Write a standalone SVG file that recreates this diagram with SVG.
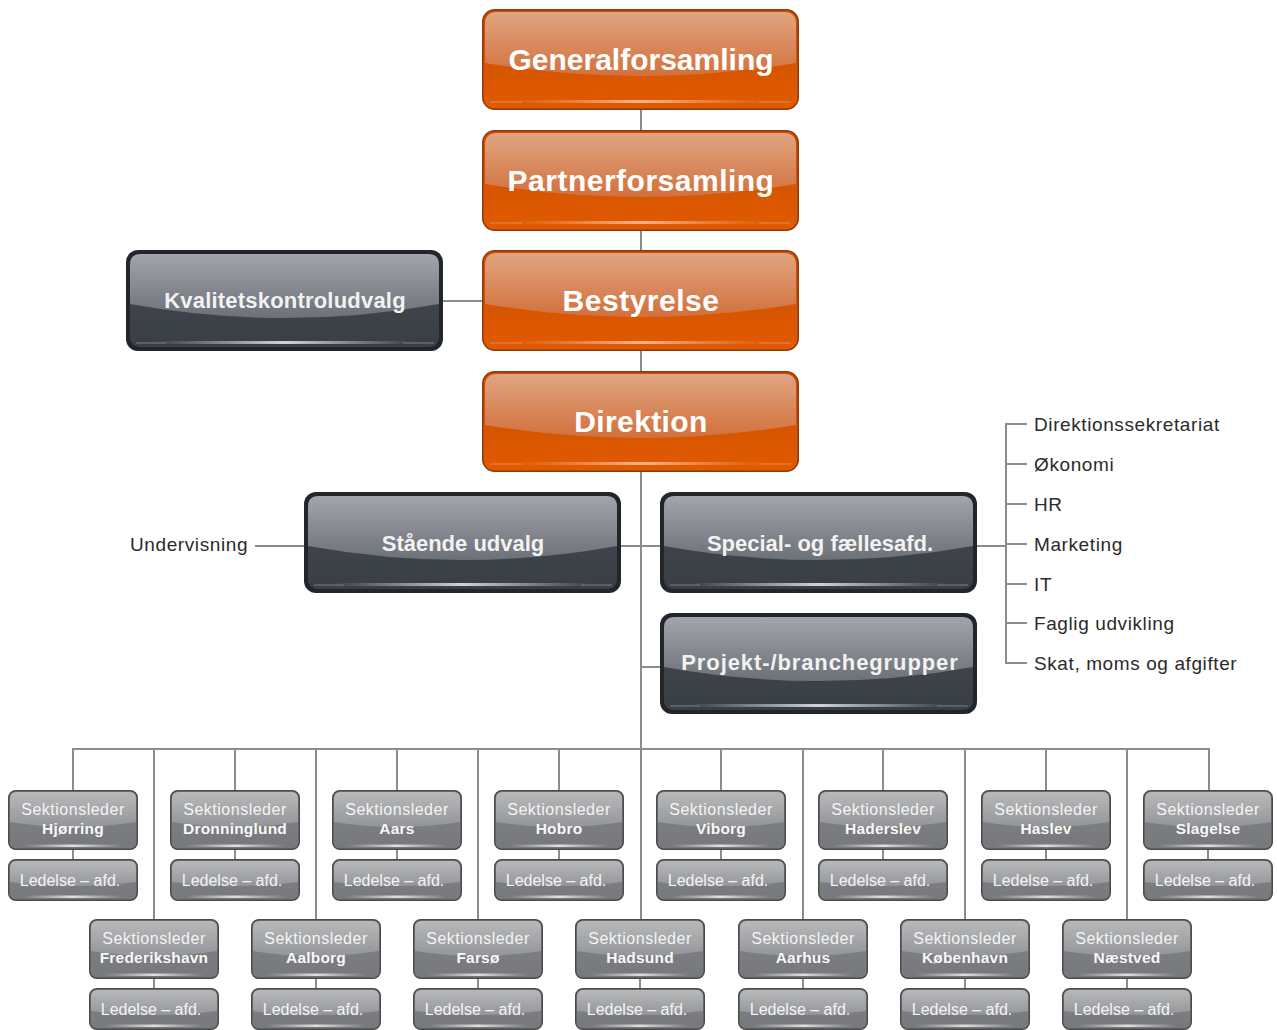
<svg xmlns="http://www.w3.org/2000/svg" xmlns:xlink="http://www.w3.org/1999/xlink" width="1277" height="1030" viewBox="0 0 1277 1030">
<style>
.ln{stroke:#8a8d90;stroke-width:2;fill:none}
.to{font-family:"Liberation Sans",Arial,sans-serif;font-weight:bold;font-size:30px;fill:#ffffff;text-anchor:middle}
.td{font-family:"Liberation Sans",Arial,sans-serif;font-weight:bold;font-size:22px;fill:#f2f2f2;text-anchor:middle}
.ts{font-family:"Liberation Sans",Arial,sans-serif;font-size:16px;letter-spacing:0.5px;fill:#f4f4f4;text-anchor:middle}
.tle{font-family:"Liberation Sans",Arial,sans-serif;font-size:16px;fill:#f4f4f4;text-anchor:middle}
.tb{font-family:"Liberation Sans",Arial,sans-serif;font-weight:bold;font-size:15.5px;letter-spacing:0.2px;fill:#f8f8f8;text-anchor:middle}
.tl{font-family:"Liberation Sans",Arial,sans-serif;font-size:19px;letter-spacing:0.6px;fill:#2b2b2b}
</style>
<defs>
<linearGradient id="oTop" x1="0" y1="0" x2="0" y2="1"><stop offset="0" stop-color="#e0a582"/><stop offset="1" stop-color="#d2703c"/></linearGradient>
<linearGradient id="oLow" x1="0" y1="0" x2="0" y2="1"><stop offset="0" stop-color="#cc4e00"/><stop offset="1" stop-color="#e05a00"/></linearGradient>
<linearGradient id="dTop" x1="0" y1="0" x2="0" y2="1"><stop offset="0" stop-color="#a2a5ab"/><stop offset="1" stop-color="#6c7077"/></linearGradient>
<linearGradient id="dLow" x1="0" y1="0" x2="0" y2="1"><stop offset="0" stop-color="#444951"/><stop offset="1" stop-color="#3a3f46"/></linearGradient>
<linearGradient id="sTop" x1="0" y1="0" x2="0" y2="1"><stop offset="0" stop-color="#b8b9bb"/><stop offset="1" stop-color="#949598"/></linearGradient>
<linearGradient id="sLow" x1="0" y1="0" x2="0" y2="1"><stop offset="0" stop-color="#838487"/><stop offset="1" stop-color="#77787b"/></linearGradient>
<linearGradient id="oStreak" x1="0" y1="0" x2="1" y2="0"><stop offset="0" stop-color="#f3a070" stop-opacity="0"/><stop offset="0.5" stop-color="#f6b48a"/><stop offset="1" stop-color="#f3a070" stop-opacity="0"/></linearGradient>
<linearGradient id="dStreak" x1="0" y1="0" x2="1" y2="0"><stop offset="0" stop-color="#c8ccd0" stop-opacity="0"/><stop offset="0.5" stop-color="#d0d4d8"/><stop offset="1" stop-color="#c8ccd0" stop-opacity="0"/></linearGradient>
<linearGradient id="sStreak" x1="0" y1="0" x2="1" y2="0"><stop offset="0" stop-color="#d8d8d8" stop-opacity="0"/><stop offset="0.5" stop-color="#e0e0e0"/><stop offset="1" stop-color="#d8d8d8" stop-opacity="0"/></linearGradient>
<g id="ob">
<rect x="0.75" y="0.75" width="315.5" height="99.5" rx="12" fill="url(#oLow)" stroke="#8a3a0e" stroke-width="1.5"/>
<path d="M3,15 Q3,3 15,3 L302,3 Q314,3 314,15 L314,54 Q158.5,80 3,54 Z" fill="url(#oTop)"/>
<rect x="30" y="91" width="257" height="3" fill="url(#oStreak)"/>
<path d="M8,93 H40 M277,93 H309" stroke="#ea8a50" stroke-width="1"/>
</g>
<g id="db">
<rect x="0" y="0" width="317" height="101" rx="12" fill="#22262b"/>
<rect x="4" y="4" width="309" height="93" rx="9" fill="url(#dLow)"/>
<path d="M4,15 Q4,4 15,4 L302,4 Q313,4 313,15 L313,54 Q158.5,82 4,54 Z" fill="url(#dTop)"/>
<rect x="30" y="91" width="257" height="3" fill="url(#dStreak)"/>
<path d="M10,93 H40 M277,93 H308" stroke="#7a7f86" stroke-width="1"/>
</g>
<g id="sb">
<rect x="0.75" y="0.75" width="128.5" height="58.5" rx="7" fill="url(#sLow)" stroke="#4a4b4d" stroke-width="1.5"/>
<path d="M2,9 Q2,2 9,2 L121,2 Q128,2 128,9 L128,32 Q65,42 2,32 Z" fill="url(#sTop)"/>
<rect x="15" y="54.5" width="100" height="2.5" fill="url(#sStreak)"/>
</g>
<g id="lb">
<rect x="0.75" y="0.75" width="128.5" height="40.5" rx="7" fill="url(#sLow)" stroke="#4a4b4d" stroke-width="1.5"/>
<path d="M2,9 Q2,2 9,2 L121,2 Q128,2 128,9 L128,23 Q65,31 2,23 Z" fill="url(#sTop)"/>
<rect x="15" y="36.5" width="100" height="2.5" fill="url(#sStreak)"/>
</g>
</defs>
<rect width="1277" height="1030" fill="#ffffff"/>
<g id="connectors">
<path class="ln" d="M641,110 V919"/>
<path class="ln" d="M443,301 H482"/>
<path class="ln" d="M621,546 H660"/>
<path class="ln" d="M255,546 H304"/>
<path class="ln" d="M977,546 H1006"/>
<path class="ln" d="M641,667 H660"/>
<path class="ln" d="M1027,424 H1006 V663 H1027 M1006,464 H1027 M1006,504 H1027 M1006,544 H1027 M1006,584 H1027 M1006,623 H1027"/>
<path class="ln" d="M73,790 V749 H1209 V790"/>
<path class="ln" d="M235,749 V790 M397,749 V790 M559,749 V790 M721,749 V790 M883,749 V790 M1046,749 V790"/>
<path class="ln" d="M154,749 V919 M316,749 V919 M478,749 V919 M803,749 V919 M965,749 V919 M1127,749 V919"/>
<path class="ln" d="M73,850 V859 M235,850 V859 M397,850 V859 M559,850 V859 M721,850 V859 M883,850 V859 M1046,850 V859 M1208,850 V859"/>
<path class="ln" d="M154,979 V988 M316,979 V988 M478,979 V988 M640,979 V988 M803,979 V988 M965,979 V988 M1127,979 V988"/>
</g>
<g id="generalforsamling"><use href="#ob" x="482" y="9"/><text class="to" x="641" y="70">Generalforsamling</text></g>
<g id="partnerforsamling"><use href="#ob" x="482" y="130"/><text class="to" x="641" y="191" letter-spacing="0.5">Partnerforsamling</text></g>
<g id="bestyrelse"><use href="#ob" x="482" y="250"/><text class="to" x="641" y="311" letter-spacing="0.5">Bestyrelse</text></g>
<g id="direktion"><use href="#ob" x="482" y="371"/><text class="to" x="641" y="432" letter-spacing="0.4">Direktion</text></g>
<g id="kvalitetskontroludvalg"><use href="#db" x="126" y="250"/><text class="td" x="285" y="308" letter-spacing="0.2">Kvalitetskontroludvalg</text></g>
<g id="staaende-udvalg"><use href="#db" x="304" y="492"/><text class="td" x="463" y="551">Stående udvalg</text></g>
<g id="special"><use href="#db" x="660" y="492"/><text class="td" x="820" y="551">Special- og fællesafd.</text></g>
<g id="projekt"><use href="#db" x="660" y="613"/><text class="td" x="820" y="670" letter-spacing="0.9">Projekt-/branchegrupper</text></g>
<g id="undervisning"><text class="tl" x="130" y="551">Undervisning</text></g>
<g id="special-list">
<text class="tl" x="1034" y="431">Direktionssekretariat</text>
<text class="tl" x="1034" y="471">Økonomi</text>
<text class="tl" x="1034" y="511">HR</text>
<text class="tl" x="1034" y="551">Marketing</text>
<text class="tl" x="1034" y="591">IT</text>
<text class="tl" x="1034" y="630">Faglig udvikling</text>
<text class="tl" x="1034" y="670">Skat, moms og afgifter</text>
</g>
<g id="hjoerring"><use href="#sb" x="8" y="790"/><text class="ts" x="73" y="815">Sektionsleder</text><text class="tb" x="73" y="834">Hjørring</text><use href="#lb" x="8" y="859"/><text class="tle" x="70" y="886">Ledelse – afd.</text></g>
<g id="dronninglund"><use href="#sb" x="170" y="790"/><text class="ts" x="235" y="815">Sektionsleder</text><text class="tb" x="235" y="834">Dronninglund</text><use href="#lb" x="170" y="859"/><text class="tle" x="232" y="886">Ledelse – afd.</text></g>
<g id="aars"><use href="#sb" x="332" y="790"/><text class="ts" x="397" y="815">Sektionsleder</text><text class="tb" x="397" y="834">Aars</text><use href="#lb" x="332" y="859"/><text class="tle" x="394" y="886">Ledelse – afd.</text></g>
<g id="hobro"><use href="#sb" x="494" y="790"/><text class="ts" x="559" y="815">Sektionsleder</text><text class="tb" x="559" y="834">Hobro</text><use href="#lb" x="494" y="859"/><text class="tle" x="556" y="886">Ledelse – afd.</text></g>
<g id="viborg"><use href="#sb" x="656" y="790"/><text class="ts" x="721" y="815">Sektionsleder</text><text class="tb" x="721" y="834">Viborg</text><use href="#lb" x="656" y="859"/><text class="tle" x="718" y="886">Ledelse – afd.</text></g>
<g id="haderslev"><use href="#sb" x="818" y="790"/><text class="ts" x="883" y="815">Sektionsleder</text><text class="tb" x="883" y="834">Haderslev</text><use href="#lb" x="818" y="859"/><text class="tle" x="880" y="886">Ledelse – afd.</text></g>
<g id="haslev"><use href="#sb" x="981" y="790"/><text class="ts" x="1046" y="815">Sektionsleder</text><text class="tb" x="1046" y="834">Haslev</text><use href="#lb" x="981" y="859"/><text class="tle" x="1043" y="886">Ledelse – afd.</text></g>
<g id="slagelse"><use href="#sb" x="1143" y="790"/><text class="ts" x="1208" y="815">Sektionsleder</text><text class="tb" x="1208" y="834">Slagelse</text><use href="#lb" x="1143" y="859"/><text class="tle" x="1205" y="886">Ledelse – afd.</text></g>
<g id="frederikshavn"><use href="#sb" x="89" y="919"/><text class="ts" x="154" y="944">Sektionsleder</text><text class="tb" x="154" y="963">Frederikshavn</text><use href="#lb" x="89" y="988"/><text class="tle" x="151" y="1015">Ledelse – afd.</text></g>
<g id="aalborg"><use href="#sb" x="251" y="919"/><text class="ts" x="316" y="944">Sektionsleder</text><text class="tb" x="316" y="963">Aalborg</text><use href="#lb" x="251" y="988"/><text class="tle" x="313" y="1015">Ledelse – afd.</text></g>
<g id="farsoe"><use href="#sb" x="413" y="919"/><text class="ts" x="478" y="944">Sektionsleder</text><text class="tb" x="478" y="963">Farsø</text><use href="#lb" x="413" y="988"/><text class="tle" x="475" y="1015">Ledelse – afd.</text></g>
<g id="hadsund"><use href="#sb" x="575" y="919"/><text class="ts" x="640" y="944">Sektionsleder</text><text class="tb" x="640" y="963">Hadsund</text><use href="#lb" x="575" y="988"/><text class="tle" x="637" y="1015">Ledelse – afd.</text></g>
<g id="aarhus"><use href="#sb" x="738" y="919"/><text class="ts" x="803" y="944">Sektionsleder</text><text class="tb" x="803" y="963">Aarhus</text><use href="#lb" x="738" y="988"/><text class="tle" x="800" y="1015">Ledelse – afd.</text></g>
<g id="koebenhavn"><use href="#sb" x="900" y="919"/><text class="ts" x="965" y="944">Sektionsleder</text><text class="tb" x="965" y="963">København</text><use href="#lb" x="900" y="988"/><text class="tle" x="962" y="1015">Ledelse – afd.</text></g>
<g id="naestved"><use href="#sb" x="1062" y="919"/><text class="ts" x="1127" y="944">Sektionsleder</text><text class="tb" x="1127" y="963">Næstved</text><use href="#lb" x="1062" y="988"/><text class="tle" x="1124" y="1015">Ledelse – afd.</text></g>
</svg>
